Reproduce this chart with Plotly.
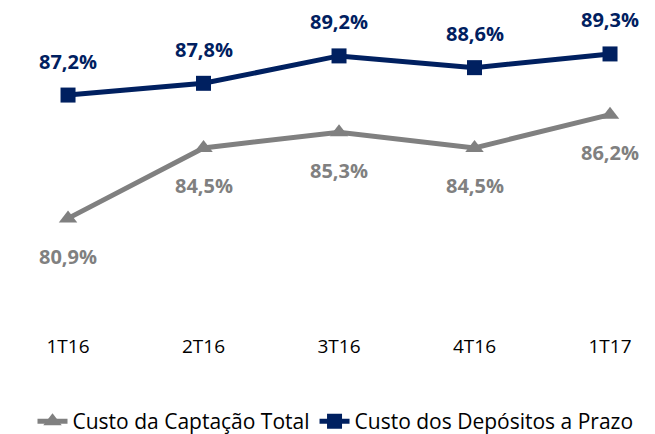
import plotly.graph_objects as go

quarters = ["1T16", "2T16", "3T16", "4T16", "1T17"]
captacao_total = [80.9, 84.5, 85.3, 84.5, 86.2]
depositos_prazo = [87.2, 87.8, 89.2, 88.6, 89.3]

navy = "#002060"
gray = "#808080"
font_family = "'Open Sans', Lato, sans-serif"


def fmt(v):
    return f"{v:.1f}%".replace(".", ",")


fig = go.Figure()

fig.add_trace(go.Scatter(
    x=quarters, y=captacao_total,
    mode="lines+markers",
    name="Custo da Captação Total",
    line=dict(color=gray, width=5),
    marker=dict(symbol="triangle-up", size=16, color=gray),
))

fig.add_trace(go.Scatter(
    x=quarters, y=depositos_prazo,
    mode="lines+markers",
    name="Custo dos Depósitos a Prazo",
    line=dict(color=navy, width=5),
    marker=dict(symbol="square", size=15, color=navy),
))

# data labels: navy above, gray below
for q, v in zip(quarters, depositos_prazo):
    fig.add_annotation(x=q, y=v, text=f"<b>{fmt(v)}</b>", showarrow=False,
                       yshift=34, font=dict(size=20, color=navy, family=font_family))
for q, v in zip(quarters, captacao_total):
    fig.add_annotation(x=q, y=v, text=f"<b>{fmt(v)}</b>", showarrow=False,
                       yshift=-38, font=dict(size=20, color=gray, family=font_family))

fig.update_layout(
    width=655, height=434,
    margin=dict(l=0, r=0, t=6, b=111),
    paper_bgcolor="white",
    plot_bgcolor="white",
    font=dict(family=font_family, size=17, color="black"),
    showlegend=True,
    legend=dict(orientation="h", x=0.5, xanchor="center", y=-0.225, yanchor="top",
                font=dict(size=21, color="black"), itemwidth=30,
                traceorder="normal"),
    xaxis=dict(type="category", range=[-0.443, 4.391], showgrid=False,
               zeroline=False, showline=False, ticks="",
               tickfont=dict(size=19, color="black"), ticklabelstandoff=3),
    yaxis=dict(range=[75.20, 91.34], visible=False, showgrid=False, zeroline=False),
)

fig.write_html("out.html")
